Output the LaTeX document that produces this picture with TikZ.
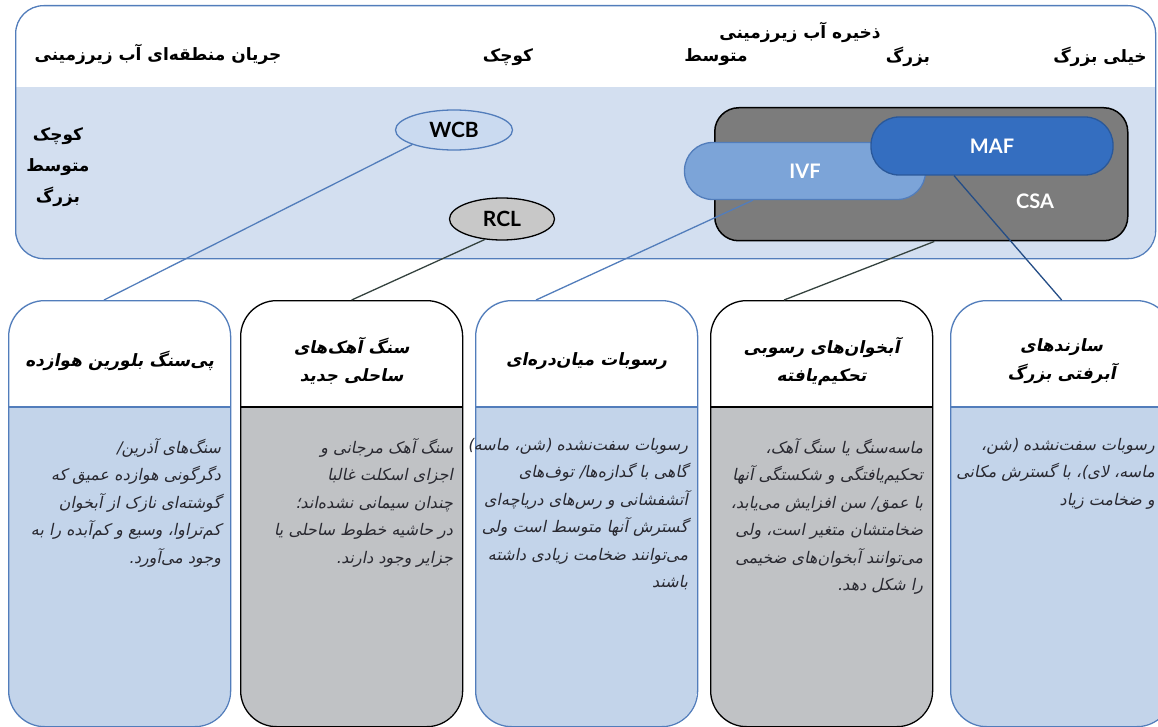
\documentclass[tikz,border=0pt]{standalone}
\usepackage{fontspec}
\setmainfont{Lato}
\newfontfamily\fatext[Script=Arabic]{DejaVu Sans}
\newfontfamily\faslant[Script=Arabic,FakeSlant=0.2]{DejaVu Sans}
\TeXXeTstate=1
\usetikzlibrary{calc,shapes.geometric}
\definecolor{panelblue}{RGB}{211,223,240}
\definecolor{frameblue}{RGB}{82,125,187}
\definecolor{bodyblue}{RGB}{195,212,234}
\definecolor{bodygray}{RGB}{192,194,197}
\definecolor{csagray}{RGB}{124,124,124}
\definecolor{ivfblue}{RGB}{124,164,216}
\definecolor{mafblue}{RGB}{52,110,192}
\definecolor{wcbfill}{RGB}{202,218,240}
\definecolor{rclfill}{RGB}{200,200,200}
\definecolor{linkdark}{RGB}{52,66,62}
\definecolor{bodyink}{RGB}{40,40,48}
\newcommand{\rl}[1]{\beginR #1\endR}
% one aquifer column: name, left x, frame colour, body fill, title, text
\newcommand{\colbox}[6]{%
  \begin{scope}
    \clip[rounded corners=36pt] (#2,300) rectangle ++(222,426);
    \fill[#4] (#2,300) rectangle ++(222,426);
    \fill[white] (#2,300) rectangle ++(222,107);
  \end{scope}
  \draw[#3,line width=2pt] (#2,407) -- ++(222,0);
  \node[colframe,draw=#3,anchor=north west] (#1) at (#2,300) {};
  \node[coltitle] (#1t) at ($(#1.north)+(0,61)$) {#5};
  \node[coltext] (#1b) at ($(#1.north east)+(-10,138)$) {#6};}

\begin{document}
\begin{tikzpicture}[x=1pt,y=-1pt,
    colframe/.style={line width=1.3pt,rounded corners=36pt,minimum width=222pt,
                     minimum height=426pt,inner sep=0pt},
    coltitle/.style={font=\faslant\bfseries\fontsize{17}{28}\selectfont,align=center},
    coltext/.style={anchor=north east,inner sep=0pt,align=right,text=bodyink,
                    font=\faslant\fontsize{16}{27.5}\selectfont},
    head/.style={font=\fatext\bfseries\fontsize{17}{20}\selectfont},
    pill/.style={draw,line width=1.3pt,rounded corners=28pt,inner sep=0pt,text=white,
                 font=\bfseries\fontsize{20}{22}\selectfont},
    oval/.style={ellipse,draw,line width=1.3pt,inner sep=0pt,
                 font=\bfseries\fontsize{21}{22}\selectfont},
    link/.style={line width=1.3pt}]
  \useasboundingbox (0,0) rectangle (1158,727);

  % upper panel
  \begin{scope}
    \clip[rounded corners=28pt] (15,5) rectangle (1155,258);
    \fill[white] (15,5) rectangle (1155,87);
    \fill[panelblue] (15,87) rectangle (1155,258);
  \end{scope}
  \node[draw=frameblue,line width=1.3pt,rounded corners=28pt,minimum width=1140pt,
        minimum height=253pt,anchor=north west,inner sep=0pt] (panel) at (15,5) {};

  \node[head] (flowtitle)  at (158,54)  {\rl{جریان منطقه^^^^200cای آب زیرزمینی}};
  \node[head] (storetitle) at (800,32)  {\rl{ذخیره آب زیرزمینی}};
  \node[head] (sSmall)     at (508,57)  {\rl{کوچک}};
  \node[head] (sMedium)    at (716,57)  {\rl{متوسط}};
  \node[head] (sLarge)     at (908,57)  {\rl{بزرگ}};
  \node[head] (sVLarge)    at (1100,57) {\rl{خیلی بزرگ}};
  \node[head] (fSmall)     at (58,136)  {\rl{کوچک}};
  \node[head] (fMedium)    at (58,167)  {\rl{متوسط}};
  \node[head] (fLarge)     at (58,197)  {\rl{بزرگ}};

  \node[oval,draw=frameblue,fill=wcbfill,minimum width=117pt,minimum height=40pt] (wcb) at (454,130) {WCB};
  \node[oval,draw=black,fill=rclfill,minimum width=105pt,minimum height=42pt] (rcl) at (502,219) {RCL};

  \node[draw=black,line width=1.5pt,fill=csagray,rounded corners=24pt,minimum width=413pt,
        minimum height=133pt,anchor=north west,inner sep=0pt] (csa) at (714,107) {};
  \node[text=white,font=\bfseries\fontsize{20}{22}\selectfont] (csalabel) at (1035,201) {CSA};
  \node[pill,draw=frameblue,fill=ivfblue,minimum width=241pt,minimum height=57pt] (ivf) at (805,171) {IVF};
  \node[pill,draw=mafblue!80!black,fill=mafblue,minimum width=242pt,minimum height=58pt] (maf) at (992,146) {MAF};

  % columns
  \colbox{b1}{8}{frameblue}{bodyblue}{\rl{پی^^^^200cسنگ بلورین هوازده}}
    {\rl{سنگ^^^^200cهای آذرین/}\\
     \rl{دگرگونی هوازده عمیق که}\\
     \rl{گوشته^^^^200cای نازک از آبخوان}\\
     \rl{کم^^^^200cتراوا، وسیع و کم^^^^200cآبده را به}\\
     \rl{وجود می^^^^200cآورد.}}
  \colbox{b2}{240}{black}{bodygray}{\rl{سنگ آهک^^^^200cهای}\\ \rl{ساحلی جدید}}
    {\rl{سنگ آهک مرجانی و}\\
     \rl{اجزای اسکلت غالبا}\\
     \rl{چندان سیمانی نشده^^^^200cاند؛}\\
     \rl{در حاشیه خطوط ساحلی یا}\\
     \rl{جزایر وجود دارند.}}
  \colbox{b3}{475}{frameblue}{bodyblue}{\rl{رسوبات میان^^^^200cدره^^^^200cای}}
    {\rl{رسوبات سفت^^^^200cنشده (شن، ماسه)}\\
     \rl{گاهی با گدازه^^^^200cها/ توف^^^^200cهای}\\
     \rl{آتشفشانی و رس^^^^200cهای دریاچه^^^^200cای}\\
     \rl{گسترش آنها متوسط است ولی}\\
     \rl{می^^^^200cتوانند ضخامت زیادی داشته}\\
     \rl{باشند}}
  \colbox{b4}{710}{black}{bodygray}{\rl{آبخوان^^^^200cهای رسوبی}\\ \rl{تحکیم^^^^200cیافته}}
    {\rl{ماسه^^^^200cسنگ یا سنگ آهک،}\\
     \rl{تحکیم^^^^200cیافتگی و شکستگی آنها}\\
     \rl{با عمق/ سن افزایش می^^^^200cیابد،}\\
     \rl{ضخامتشان متغیر است، ولی}\\
     \rl{می^^^^200cتوانند آبخوان^^^^200cهای ضخیمی}\\
     \rl{را شکل دهد.}}
  \colbox{b5}{950}{frameblue}{bodyblue}{\rl{سازندهای}\\ \rl{آبرفتی بزرگ}}
    {}
  \node[coltext] (b5b) at (1155,438)
    {\rl{رسوبات سفت^^^^200cنشده (شن،}\\
     \rl{ماسه، لای)، با گسترش مکانی}\\
     \rl{و ضخامت زیاد}};

  % links from the panel to the columns
  \draw[link,frameblue] (wcb.south west) -- ($(b1.north west)+(96,0)$);
  \draw[link,linkdark]  (rcl.230) -- (b2.north);
  \draw[link,frameblue] ($(ivf.south)+(-52,0)$) -- ($(b3.north west)+(61,0)$);
  \draw[link,linkdark]  ($(csa.south)+(13,0)$) -- ($(b4.north west)+(74,0)$);
  \draw[link,mafblue!70!black] ($(maf.south)+(-38,0)$) -- (b5.north);
\end{tikzpicture}
\end{document}
